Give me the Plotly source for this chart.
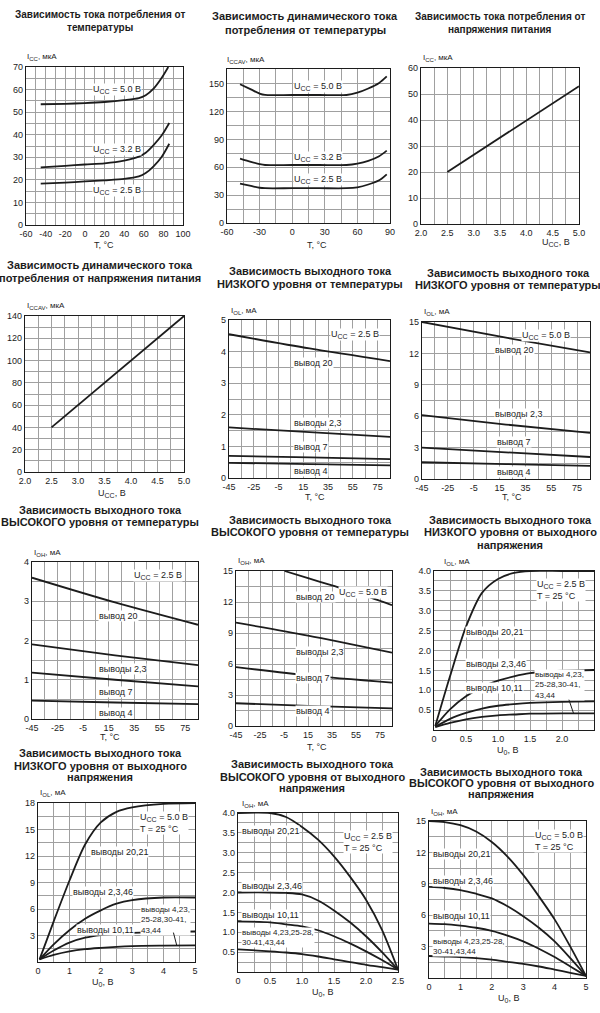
import plotly.graph_objects as go

W, H = 600, 1013
FONT = "Liberation Sans, Arial, sans-serif"
INK = "#1c1c1c"
GRID = "#a0a0a0"

# ------------------------------------------------------------------ data
# P1: I_CC vs T
p1_t = [-45, -20, 0, 20, 40, 55, 62, 70, 78, 85]
p1_u50 = [53.5, 53.7, 54.0, 54.5, 55.3, 56.2, 57.5, 60.4, 65.0, 70.0]
p1_t32 = [-45, -20, 0, 20, 40, 55, 62, 70, 78, 86]
p1_u32 = [25.5, 26.2, 26.8, 27.3, 28.5, 30.3, 32.0, 35.4, 39.5, 45.2]
p1_u25 = [18.3, 18.8, 19.3, 19.8, 20.4, 21.5, 23.0, 26.0, 30.0, 36.0]
p1_xticks = [-60, -40, -20, 0, 20, 40, 60, 80, 100]
p1_yticks = [0, 10, 20, 30, 40, 50, 60, 70]

# P2: I_CCAV vs T
p2_t = [-48, -38, -30, -25, 0, 25, 50, 60, 70, 80, 87]
p2_u50 = [149.5, 144, 139.5, 138, 138, 138, 138, 140.5, 145, 151, 158]
p2_u32 = [69.5, 66, 63.5, 62.5, 62.5, 62.5, 62.5, 64, 67, 72, 78]
p2_u25 = [42.5, 40, 38, 37.5, 37.5, 37.5, 37.5, 38.5, 41.5, 46, 52.5]
p2_xticks = [-60, -30, 0, 30, 60, 90]
p2_yticks = [0, 30, 60, 90, 120, 150]

# P3: I_CC vs U_CC
p3_u = [2.5, 5.0]
p3_i = [20, 53]
v_ticks = [2.0, 2.5, 3.0, 3.5, 4.0, 4.5, 5.0]
v_tick_text = ["2.0", "2.5", "3.0", "3.5", "4.0", "4.5", "5.0"]
p3_yticks = [0, 10, 20, 30, 40, 50, 60]

# P4: I_CCAV vs U_CC
p4_u = [2.5, 5.0]
p4_i = [40, 140]
p4_yticks = [0, 20, 40, 60, 80, 100, 120, 140]

# P5..P8: output currents vs T
t_line = [-45, 20, 85]
t_ticks = [-45, -25, -5, 15, 35, 55, 75]
p5_pin20 = [4.55, 4.1, 3.7]
p5_pin23 = [1.6, 1.45, 1.3]
p5_pin7 = [0.7, 0.65, 0.6]
p5_pin4 = [0.48, 0.44, 0.4]
p5_yticks = [0, 1, 2, 3, 4, 5]

p6_pin20 = [15.0, 13.5, 12.1]
p6_pin23 = [6.1, 5.2, 4.4]
p6_pin7 = [3.0, 2.55, 2.1]
p6_pin4 = [1.6, 1.42, 1.25]
p6_yticks = [0, 3, 6, 9, 12, 15]

p7_pin20 = [3.6, 2.97, 2.4]
p7_pin23 = [1.9, 1.62, 1.37]
p7_pin7 = [1.18, 1.0, 0.83]
p7_pin4 = [0.47, 0.42, 0.38]
p7_yticks = [0, 1, 2, 3, 4]

p8_t20 = [-4.5, 15, 35, 55, 85]
p8_pin20 = [15.0, 14.3, 13.6, 12.9, 11.7]
p8_t = [-45, 15, 85]
p8_pin23 = [10.0, 8.75, 7.1]
p8_pin7 = [5.7, 4.9, 4.2]
p8_pin4 = [2.2, 1.95, 1.7]
p8_yticks = [0, 3, 6, 9, 12, 15]

# P9: I_OL vs U_0, U_CC = 2.5 V
p9_u = [0.02, 0.25, 0.5, 0.75, 1.0, 1.25, 1.5, 2.0, 2.5]
p9_a = [0.1, 1.35, 2.6, 3.45, 3.8, 3.95, 4.0, 4.0, 4.0]
p9_b = [0.1, 0.52, 0.85, 1.08, 1.24, 1.35, 1.43, 1.49, 1.51]
p9_c = [0.08, 0.28, 0.43, 0.54, 0.61, 0.65, 0.68, 0.71, 0.72]
p9_d = [0.07, 0.18, 0.27, 0.33, 0.37, 0.39, 0.41, 0.42, 0.42]
u25_ticks = [0, 0.5, 1.0, 1.5, 2.0, 2.5]
u25_tick_text = ["0", "0.5", "1.0", "1.5", "2.0", "2.5"]
i4_ticks = [0.5, 1.0, 1.5, 2.0, 2.5, 3.0, 3.5, 4.0]
i4_tick_text = ["0.5", "1.0", "1.5", "2.0", "2.5", "3.0", "3.5", "4.0"]

# P10: I_OL vs U_0, U_CC = 5.0 V
p10_u = [0.05, 0.5, 1.0, 1.5, 2.0, 2.5, 3.0, 4.0, 5.0]
p10_a = [0.3, 4.6, 9.2, 13.3, 15.8, 17.0, 17.5, 17.9, 18.0]
p10_b = [0.3, 2.0, 3.6, 4.9, 5.85, 6.6, 7.0, 7.3, 7.3]
p10_c = [0.3, 1.3, 2.2, 2.75, 3.05, 3.2, 3.3, 3.4, 3.45]
p10_d = [0.3, 0.8, 1.2, 1.45, 1.6, 1.72, 1.8, 1.85, 1.88]
u5_ticks = [0, 1, 2, 3, 4, 5]
p10_yticks = [3, 6, 9, 12, 15, 18]

# P11: I_OH vs U_0, U_CC = 2.5 V
p11_u = [0, 0.5, 0.75, 1.0, 1.25, 1.5, 1.75, 2.0, 2.25, 2.5]
p11_a = [4.0, 4.0, 3.9, 3.65, 3.33, 2.91, 2.4, 1.82, 1.06, 0.06]
p11_b = [2.0, 2.0, 1.99, 1.95, 1.8, 1.55, 1.25, 0.9, 0.5, 0.06]
p11_c = [1.28, 1.25, 1.2, 1.15, 1.05, 0.9, 0.72, 0.52, 0.3, 0.06]
p11_d = [0.57, 0.52, 0.49, 0.45, 0.39, 0.32, 0.25, 0.18, 0.12, 0.06]

# P12: I_OH vs U_0, U_CC = 5.0 V
p12_u = [0, 0.5, 1, 1.5, 2, 2.5, 3, 3.5, 4, 4.5, 5]
p12_a = [15, 14.9, 14.6, 14.0, 13.0, 11.6, 9.85, 7.8, 5.6, 3.0, 0.2]
p12_b = [8.7, 8.6, 8.4, 8.05, 7.6, 6.85, 5.9, 4.8, 3.5, 1.9, 0.2]
p12_c = [5.2, 5.15, 5.0, 4.8, 4.5, 4.05, 3.5, 2.8, 2.0, 1.1, 0.2]
p12_d = [2.1, 2.05, 2.0, 1.9, 1.75, 1.55, 1.35, 1.1, 0.8, 0.5, 0.2]
p12_yticks = [3, 6, 9, 12, 15]


# ------------------------------------------------------------------ text
def sub(base, s, rest, size, ssize):
    # subscript drawn as a smaller, lowered span (explicit pixel sizes everywhere)
    return ('<span style="font-size:%dpx">%s</span>' % (size, base)
            + '<span style="font-size:%dpx;baseline-shift:-2px">%s</span>' % (ssize, s)
            + '<span style="font-size:%dpx">%s</span>' % (size, rest))


T_TITLE = "T, °C"
U_CC_TITLE = sub("U", "CC", ", В", 9, 7)
U0_TITLE = sub("U", "0", ", В", 9, 7)
UCC50 = sub("U", "CC", " = 5.0 В", 9, 7)
UCC32 = sub("U", "CC", " = 3.2 В", 9, 7)
UCC25 = sub("U", "CC", " = 2.5 В", 9, 7)
T25 = '<span style="font-size:9px">T = 25 °C</span>'
I_CC = sub("I", "CC", ", мкА", 8, 6)
I_CCAV = sub("I", "CCAV", ", мкА", 8, 6)
I_OL = sub("I", "OL", ", мА", 8, 6)
I_OH = sub("I", "OH", ", мА", 8, 6)
PINS_3L = "выводы 4,23,<br>25-28,30-41,<br>43,44"
PINS_2L = "выводы 4,23,25-28,<br>30-41,43,44"

S = "spline"
L = "linear"

panels = [
    dict(box=(26, 183, 67, 225), xr=[-60, 100], yr=[0, 70],
         xt=p1_xticks, yt=p1_yticks, xg=(10, -60), yg=(5, 0),
         title=["Зависимость тока потребления от", "температуры"], ty=[15, 28], tx=100, ts=10,
         ylab=I_CC, ylp=(25, 57), xlab=T_TITLE, xlp=(104, 245),
         series=[(p1_t, p1_u50, S), (p1_t32, p1_u32, S), (p1_t32, p1_u25, S)],
         labels=[(UCC50, 33, 60, "center"), (UCC32, 33, 33.5, "center"), (UCC25, 33, 15.2, "center")]),
    dict(box=(227, 390, 69, 223), xr=[-60, 90], yr=[0, 166],
         xt=p2_xticks, yt=p2_yticks, xg=(15, -60), yg=(15, 0),
         title=["Зависимость динамического тока", "потребления от температуры"], ty=[16, 30], tx=305,
         ylab=I_CCAV, ylp=(225, 60), xlab=T_TITLE, xlp=(317, 245),
         series=[(p2_t, p2_u50, S), (p2_t, p2_u32, S), (p2_t, p2_u25, S)],
         labels=[(UCC50, 24, 147.5, "center"), (UCC32, 24, 70.5, "center"), (UCC25, 24, 47, "center")]),
    dict(box=(421, 579, 68, 224), xr=[2.0, 5.0], yr=[0, 60],
         xt=v_ticks, xtt=v_tick_text, yt=p3_yticks, xg=(0.25, 2.0), yg=(10, 0),
         title=["Зависимость тока потребления от", "напряжения питания"], ty=[16, 30], tx=500, ts=10,
         ylab=I_CC, ylp=(421, 58), xlab=U_CC_TITLE, xlp=(556, 243),
         series=[(p3_u, p3_i, L)], labels=[]),
    dict(box=(25, 184, 316, 472), xr=[2.0, 5.0], yr=[0, 140],
         xt=v_ticks, xtt=v_tick_text, yt=p4_yticks, xg=(0.25, 2.0), yg=(10, 0),
         title=["Зависимость динамического тока", "потребления от напряжения питания"], ty=[265, 278], tx=100,
         ylab=I_CCAV, ylp=(25, 306), xlab=U_CC_TITLE, xlp=(112, 493),
         series=[(p4_u, p4_i, L)], labels=[]),
    dict(box=(229, 390, 320, 478), xr=[-45, 85], yr=[0, 5],
         xt=t_ticks, yt=p5_yticks, xg=(10, -45), yg=(0.5, 0),
         title=["Зависимость выходного тока", "НИЗКОГО уровня от температуры"], ty=[271, 284], tx=310,
         ylab=I_OL, ylp=(229, 311), xlab=T_TITLE, xlp=(315, 497),
         series=[(t_line, p5_pin20, S), (t_line, p5_pin23, S), (t_line, p5_pin7, S), (t_line, p5_pin4, S)],
         labels=[(UCC25, 57, 4.55, "center"), ("вывод 20", 7, 3.65, "left"), ("выводы 2,3", 7, 1.75, "left"),
                 ("вывод 7", 7, 0.98, "left"), ("вывод 4", 7, 0.21, "left")]),
    dict(box=(422, 590, 322, 479), xr=[-45, 85], yr=[0, 15],
         xt=t_ticks, yt=p6_yticks, xg=(10, -45), yg=(1.5, 0),
         title=["Зависимость выходного тока", "НИЗКОГО уровня от температуры"], ty=[273, 285], tx=508,
         ylab=I_OL, ylp=(422, 312), xlab=T_TITLE, xlp=(512, 497),
         series=[(t_line, p6_pin20, S), (t_line, p6_pin23, S), (t_line, p6_pin7, S), (t_line, p6_pin4, S)],
         labels=[(UCC50, 51, 13.7, "center"), ("вывод 20", 10.8, 12.3, "left"), ("выводы 2,3", 10.8, 6.2, "left"),
                 ("вывод 7", 12, 3.5, "left"), ("вывод 4", 12, 0.67, "left")]),
    dict(box=(32, 198, 562, 719), xr=[-45, 85], yr=[0, 4],
         xt=t_ticks, yt=p7_yticks, xg=(10, -45), yg=(0.5, 0),
         title=["Зависимость выходного тока", "ВЫСОКОГО уровня от температуры"], ty=[510, 522], tx=100,
         ylab=I_OH, ylp=(32, 553), xlab=T_TITLE, xlp=(110, 737),
         series=[(t_line, p7_pin20, S), (t_line, p7_pin23, S), (t_line, p7_pin7, S), (t_line, p7_pin4, S)],
         labels=[(UCC25, 54, 3.66, "center"), ("вывод 20", 6.3, 2.62, "left"), ("выводы 2,3", 6.3, 1.28, "left"),
                 ("вывод 7", 6.3, 0.70, "left"), ("вывод 4", 6.3, 0.15, "left")]),
    dict(box=(236, 392, 571, 726), xr=[-45, 85], yr=[0, 15],
         xt=t_ticks, yt=p8_yticks, xg=(10, -45), yg=(1.5, 0),
         title=["Зависимость выходного тока", "ВЫСОКОГО уровня от температуры"], ty=[520, 532], tx=310,
         ylab=I_OH, ylp=(236, 561), xlab=T_TITLE, xlp=(317, 747),
         series=[(p8_t20, p8_pin20, S), (p8_t, p8_pin23, S), (p8_t, p8_pin7, S), (p8_t, p8_pin4, S)],
         labels=[(UCC50, 61, 12.9, "center"), ("вывод 20", 3.8, 12.5, "left"), ("выводы 2,3", 3.8, 7.2, "left"),
                 ("вывод 7", 3.8, 4.6, "left"), ("вывод 4", 3.8, 1.5, "left")]),
    dict(box=(434, 594, 571, 730), xr=[0, 2.5], yr=[0, 4.0],
         xt=u25_ticks, xtt=u25_tick_text, yt=i4_ticks, ytt=i4_tick_text, xg=(0.25, 0), yg=(0.25, 0),
         title=["Зависимость выходного тока", "НИЗКОГО уровня от выходного", "напряжения"], ty=[520, 532, 545], tx=510,
         ylab=I_OL, ylp=(442, 562), xlab=U0_TITLE, xlp=(507, 750),
         series=[(p9_u, p9_a, S), (p9_u, p9_b, S), (p9_u, p9_c, S), (p9_u, p9_d, S)],
         labels=[(UCC25 + "<br>" + T25, 1.6, 3.52, "left"), ("выводы 20,21", 0.48, 2.47, "left"),
                 ("выводы 2,3,46", 0.48, 1.65, "left"), ("выводы 10,11", 0.48, 1.05, "left"),
                 (PINS_3L, 1.57, 1.12, "left", 8)],
         pointer=(2.1, 0.8, 2.18, 0.42)),
    dict(box=(38, 195, 803, 962), xr=[0, 5], yr=[0, 18],
         xt=u5_ticks, yt=p10_yticks, xg=(0.5, 0), yg=(1.5, 0),
         title=["Зависимость выходного тока", "НИЗКОГО уровня от выходного", "напряжения"], ty=[753, 766, 777], tx=100,
         ylab=I_OL, ylp=(38, 793), xlab=U0_TITLE, xlp=(102, 982),
         series=[(p10_u, p10_a, S), (p10_u, p10_b, S), (p10_u, p10_c, S), (p10_u, p10_d, S)],
         labels=[(UCC50 + "<br>" + T25, 3.23, 15.75, "left"), ("выводы 20,21", 1.66, 12.5, "left"),
                 ("выводы 2,3,46", 1.08, 7.9, "left"), ("выводы 10,11", 1.22, 3.66, "left"),
                 (PINS_3L, 3.25, 4.8, "left", 8)],
         pointer=(4.3, 3.5, 4.42, 1.86)),
    dict(box=(238, 398, 813, 972), xr=[0, 2.5], yr=[0, 4.0],
         xt=u25_ticks, xtt=u25_tick_text, yt=i4_ticks, ytt=i4_tick_text, xg=(0.25, 0), yg=(0.25, 0),
         title=["Зависимость выходного тока", "ВЫСОКОГО уровня от выходного", "напряжения"], ty=[764, 777, 788], tx=312,
         ylab=I_OH, ylp=(240, 804), xlab=U0_TITLE, xlp=(322, 992),
         series=[(p11_u, p11_a, S), (p11_u, p11_b, S), (p11_u, p11_c, S), (p11_u, p11_d, S)],
         labels=[("выводы 20,21", 0.05, 3.54, "left"), (UCC25 + "<br>" + T25, 1.64, 3.265, "left"),
                 ("выводы 2,3,46", 0.05, 2.16, "left"), ("выводы 10,11", 0.05, 1.44, "left"),
                 (PINS_2L, 0.05, 0.865, "left", 8)]),
    dict(box=(429, 586, 821, 978), xr=[0, 5], yr=[0, 15],
         xt=u5_ticks, yt=p12_yticks, xg=(0.5, 0), yg=(1.5, 0),
         title=["Зависимость выходного тока", "ВЫСОКОГО уровня от выходного", "напряжения"], ty=[772, 783, 794], tx=501,
         ylab=I_OH, ylp=(429, 812), xlab=U0_TITLE, xlp=(508, 998),
         series=[(p12_u, p12_a, S), (p12_u, p12_b, S), (p12_u, p12_c, S), (p12_u, p12_d, S)],
         labels=[("выводы 20,21", 0.1, 11.85, "left"), (UCC50 + "<br>" + T25, 3.35, 13.1, "left"),
                 ("выводы 2,3,46", 0.1, 9.3, "left"), ("выводы 10,11", 0.1, 5.95, "left"),
                 (PINS_2L, 0.1, 2.97, "left", 8)]),
]


def px(x):
    return x / W


def py(y):
    return 1 - y / H


fig = go.Figure()
layout = {}
annotations = []

for i, p in enumerate(panels, start=1):
    sfx = "" if i == 1 else str(i)
    xa, ya = "x" + sfx, "y" + sfx
    l, r, t, b = p["box"]
    tickfont = dict(family=FONT, size=9, color=INK)
    common = dict(showgrid=True, gridcolor=GRID, gridwidth=0.8,
                  showline=True, mirror=True, linecolor=INK, linewidth=1.3,
                  ticks="", tickfont=tickfont, zeroline=False, fixedrange=True,
                  automargin=False, tickmode="array")
    layout["xaxis" + sfx] = dict(
        domain=[px(l), px(r)], range=p["xr"], anchor=ya,
        tickvals=p["xt"], ticktext=p.get("xtt", [str(v) for v in p["xt"]]),
        minor=dict(tickmode="linear", dtick=p["xg"][0], tick0=p["xg"][1], showgrid=True,
                   gridcolor=GRID, gridwidth=0.8, ticks=""), **common)
    layout["yaxis" + sfx] = dict(
        domain=[py(b), py(t)], range=p["yr"], anchor=xa,
        tickvals=p["yt"], ticktext=p.get("ytt", [str(v) for v in p["yt"]]),
        minor=dict(tickmode="linear", dtick=p["yg"][0], tick0=p["yg"][1], showgrid=True,
                   gridcolor=GRID, gridwidth=0.8, ticks=""), **common)

    for xs, ys, shp in p["series"]:
        line = dict(color=INK, width=1.8, shape=shp)
        if shp == "spline":
            line["smoothing"] = 0.8
        fig.add_trace(go.Scatter(x=xs, y=ys, mode="lines", line=line, xaxis=xa, yaxis=ya,
                                 showlegend=False, hoverinfo="skip"))

    for txt, yy in zip(p["title"], p["ty"]):
        annotations.append(dict(text="<b>" + txt + "</b>", x=px(p["tx"]), y=py(yy), xref="paper", yref="paper",
                                xanchor="center", yanchor="middle", showarrow=False,
                                font=dict(family=FONT, size=p.get("ts", 11), color=INK)))
    annotations.append(dict(text=p["ylab"], x=px(p["ylp"][0]), y=py(p["ylp"][1]), xref="paper", yref="paper",
                            xanchor="left", yanchor="middle", showarrow=False,
                            font=dict(family=FONT, size=8, color=INK)))
    annotations.append(dict(text=p["xlab"], x=px(p["xlp"][0]), y=py(p["xlp"][1]), xref="paper", yref="paper",
                            xanchor="center", yanchor="middle", showarrow=False,
                            font=dict(family=FONT, size=9, color=INK)))
    for lab in p["labels"]:
        txt, xx, yy, anc = lab[:4]
        size = lab[4] if len(lab) > 4 else 9
        annotations.append(dict(text=txt, x=xx, y=yy, xref=xa, yref=ya, xanchor=anc, yanchor="middle",
                                align="left", showarrow=False, bgcolor="white", borderpad=0,
                                font=dict(family=FONT, size=size, color=INK)))
    if "pointer" in p:
        x0, y0, x1, y1 = p["pointer"]
        annotations.append(dict(text="", x=x1, y=y1, ax=x0, ay=y0, xref=xa, yref=ya, axref=xa, ayref=ya,
                                showarrow=True, arrowhead=0, arrowwidth=1, arrowcolor=INK))

layout.update(dict(template="none", width=W, height=H, margin=dict(l=0, r=0, t=0, b=0, pad=0),
                   autosize=False, paper_bgcolor="white", plot_bgcolor="white", showlegend=False,
                   annotations=annotations, font=dict(family=FONT, color=INK)))
fig.update_layout(**layout)
fig.write_html("out.html", config={"displayModeBar": False},
               post_script="document.body.style.margin='0';document.documentElement.style.overflow='hidden';")
